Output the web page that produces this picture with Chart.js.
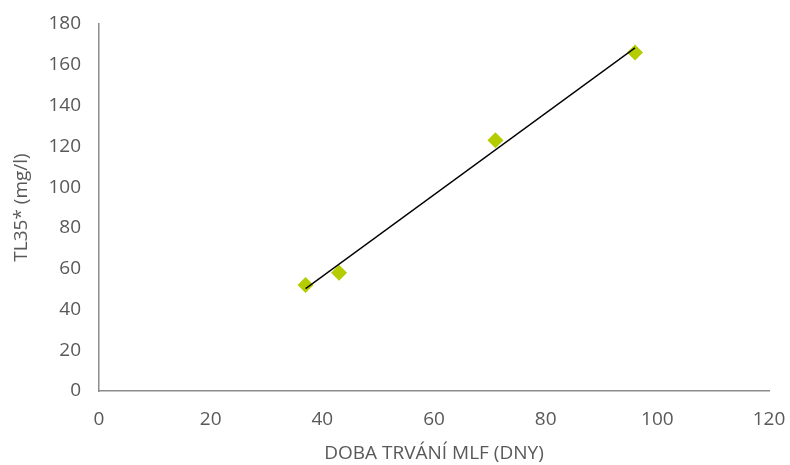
<!DOCTYPE html>
<html>
<head>
<meta charset="utf-8">
<script src="https://cdn.jsdelivr.net/npm/chart.js@4"></script>
<style>
  html, body { margin: 0; padding: 0; background: #fff; }
  #wrap { width: 790px; height: 465px; }
</style>
</head>
<body>
<div id="wrap"><canvas id="chart"></canvas></div>
<script>
// hodnoty
const doba = [37, 43, 71, 96];
const tl35 = [52, 58, 123, 166];
// lineární trend (koncové body)
const trendX = [37, 96];
const trendY = [50.2, 168.3];

const xTicks = [0, 20, 40, 60, 80, 100, 120];
const yTicks = [0, 20, 40, 60, 80, 100, 120, 140, 160, 180];

const textColor = "#595959";
const axisColor = "#8c8c8c";
const font = { family: "'Open Sans', 'Noto Sans', sans-serif", size: 19 };

new Chart(document.getElementById("chart"), {
  type: "scatter",
  data: {
    datasets: [
      {
        label: "TL35*",
        data: doba.map((x, i) => ({ x: x, y: tl35[i] })),
        pointStyle: "rectRot",
        pointRadius: 8,
        backgroundColor: "#b5cc00",
        borderWidth: 0,
        order: 2,
      },
      {
        label: "trend",
        type: "line",
        data: trendX.map((x, i) => ({ x: x, y: trendY[i] })),
        borderColor: "#000",
        borderWidth: 1.3,
        pointRadius: 0,
        fill: false,
        order: 1,
      },
    ],
  },
  options: {
    responsive: true,
    maintainAspectRatio: false,
    animation: false,
    layout: { padding: { top: 24, right: 21, left: 0, bottom: 0 } },
    plugins: { legend: { display: false }, tooltip: { enabled: false } },
    scales: {
      x: {
        type: "linear",
        min: 0,
        max: 120,
        afterBuildTicks: (s) => { s.ticks = xTicks.map((v) => ({ value: v })); },
        afterFit: (s) => { s.height = 74; s.paddingLeft = 0; s.paddingRight = 0; },
        grid: { display: false, drawTicks: true, tickLength: 6, tickColor: axisColor },
        border: { color: axisColor, width: 1.5 },
        ticks: { color: textColor, font: font, padding: 11, maxRotation: 0 },
        title: {
          display: true,
          text: "DOBA TRVÁNÍ MLF (DNY)",
          color: textColor,
          font: font,
          padding: { top: 0, bottom: 0 },
        },
      },
      y: {
        type: "linear",
        min: 0,
        max: 180,
        afterBuildTicks: (s) => { s.ticks = yTicks.map((v) => ({ value: v })); },
        afterFit: (s) => { s.width = 99; s.paddingTop = 0; s.paddingBottom = 0; },
        grid: { display: false, drawTicks: true, tickLength: 6, tickColor: axisColor },
        border: { color: axisColor, width: 1.5 },
        ticks: { color: textColor, font: font, padding: 12 },
        title: {
          display: true,
          text: "TL35* (mg/l)",
          color: textColor,
          font: font,
          padding: { top: 10, bottom: 0 },
        },
      },
    },
  },
});
</script>
</body>
</html>
